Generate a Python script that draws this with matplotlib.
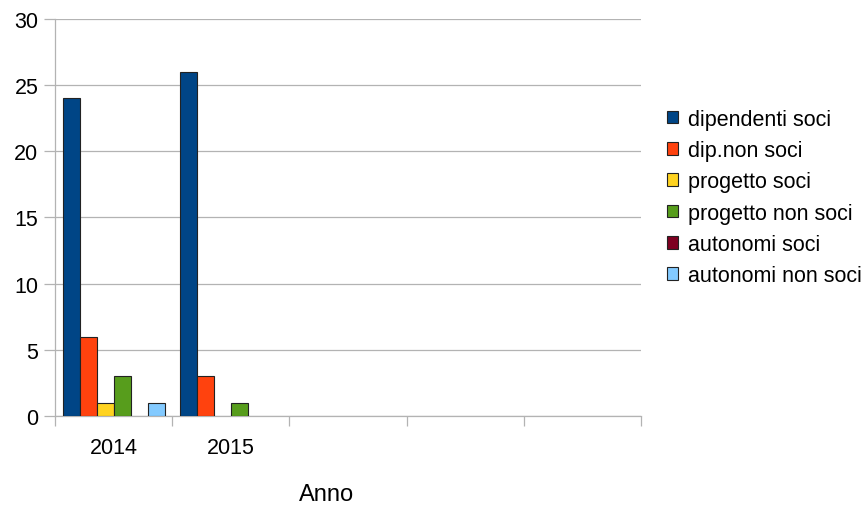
import matplotlib.pyplot as plt
from matplotlib.patches import Patch

plt.rcParams['font.family'] = ['Liberation Sans', 'DejaVu Sans']

# categories (last three are empty in the source chart)
years = ["2014", "2015", "", "", ""]
series_names = ["dipendenti soci", "dip.non soci", "progetto soci",
                "progetto non soci", "autonomi soci", "autonomi non soci"]
dipendenti_soci = [24, 26, 0, 0, 0]
dip_non_soci = [6, 3, 0, 0, 0]
progetto_soci = [1, 0, 0, 0, 0]
progetto_non_soci = [3, 1, 0, 0, 0]
autonomi_soci = [0, 0, 0, 0, 0]
autonomi_non_soci = [1, 0, 0, 0, 0]
values = [dipendenti_soci, dip_non_soci, progetto_soci,
          progetto_non_soci, autonomi_soci, autonomi_non_soci]
colors = ["#004586", "#ff420e", "#ffd320", "#579d1c", "#7e0021", "#83caff"]

fs = 15.5

fig = plt.figure(figsize=(8.66, 5.06), dpi=100)
ax = fig.add_axes([0.0635, 0.176, 0.6765, 0.7845])

grid_col = "#b3b3b3"
w = 0.145
n = len(series_names)
for k, (vals, col) in enumerate(zip(values, colors)):
    xs = [i + 0.5 - n * w / 2 + k * w for i in range(len(years))]
    for x, v in zip(xs, vals):
        if v > 0:
            ax.bar(x, v, width=w, align='edge', color=col,
                   edgecolor="#222222", linewidth=0.8, zorder=3)

ax.set_xlim(0, len(years))
ax.set_ylim(0, 30)
ax.set_yticks(range(0, 31, 5))
ax.yaxis.grid(True, color=grid_col, linewidth=0.9, zorder=0)

ax.set_xticks(range(0, len(years) + 1))
ax.set_xticklabels([])
ax.set_xticks([i + 0.5 for i in range(len(years))], minor=True)
ax.set_xticklabels(years, minor=True, fontsize=fs)
ax.tick_params(axis='x', which='major', length=7.5, color=grid_col, width=0.9)
ax.tick_params(axis='x', which='minor', length=0, pad=15)
ax.tick_params(axis='y', length=8, color=grid_col, width=0.9, labelsize=fs, pad=4)

for s in ['top', 'right']:
    ax.spines[s].set_visible(False)
for s in ['left', 'bottom']:
    ax.spines[s].set_color(grid_col)
    ax.spines[s].set_linewidth(0.9)

fig.text(327 / 866, 1 - 495 / 506, "Anno", ha='center', va='center', fontsize=17)

handles = [Patch(facecolor=c, edgecolor="#222222", linewidth=0.8) for c in colors]
fig.legend(handles, series_names, loc='center left',
           bbox_to_anchor=(667 / 866, 1 - 198.5 / 506), frameon=False,
           fontsize=fs, handlelength=0.52, handleheight=0.52,
           handletextpad=0.45, labelspacing=0.48, borderaxespad=0,
           borderpad=0)

fig.savefig("out.png", dpi=100)
